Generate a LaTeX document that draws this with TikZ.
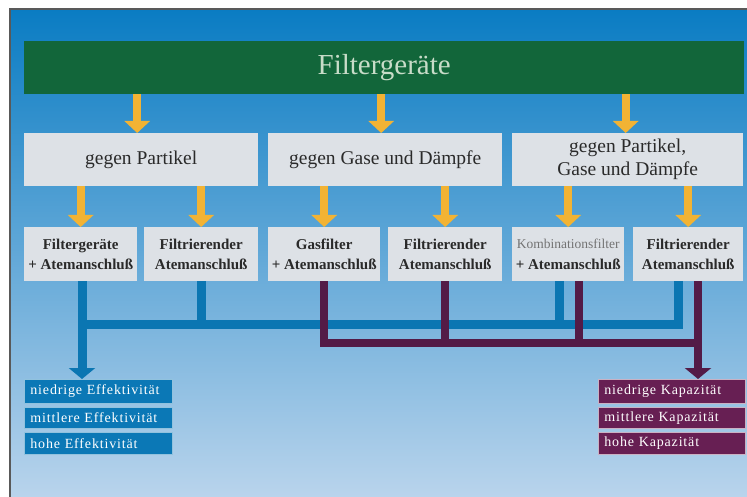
\documentclass[tikz,border=0pt]{standalone}
\usepackage{fontspec}
\setmainfont{Liberation Serif}
\newfontfamily\stackfont[LetterSpace=6]{Liberation Serif}
\usetikzlibrary{arrows.meta}
\definecolor{bgtop}{HTML}{0A7CC3}
\definecolor{bgmid}{HTML}{3A93D3}
\definecolor{bgbot}{HTML}{B9D4EC}
\definecolor{barg}{HTML}{12663A}
\definecolor{titlec}{HTML}{C8DCC8}
\definecolor{boxg}{HTML}{DDE1E6}
\definecolor{txtd}{HTML}{2A2A2A}
\definecolor{orng}{HTML}{F2B334}
\definecolor{bline}{HTML}{0B76B2}
\definecolor{bfill}{HTML}{0B78B6}
\definecolor{pline}{HTML}{531B47}
\definecolor{pfill}{HTML}{671F53}
\tikzset{
  boxbase/.style={anchor=north west, inner sep=0pt, align=center},
  midbox/.style={boxbase, fill=boxg, minimum height=53pt, text=txtd, font=\fontsize{19.5}{23}\selectfont},
  lowbox/.style={boxbase, fill=boxg, minimum height=54pt, text=txtd, font=\fontsize{15}{20.5}\selectfont\bfseries},
  bstack/.style={anchor=north west, inner xsep=6pt, inner ysep=0pt, text=white, fill=bfill, draw=bfill!45!white, line width=0.8pt, minimum width=148pt, text width=136pt, align=left, font=\fontsize{14}{16}\stackfont},
  pstack/.style={bstack, fill=pfill, draw=pfill!35!white, minimum width=147pt, text width=135pt},
  oarrow/.style={draw=orng, line width=8pt, -{Triangle[width=25pt,length=12pt]}},
  bconn/.style={draw=bline, line width=9pt},
  pconn/.style={draw=pline, line width=8pt},
}
\begin{document}
\begin{tikzpicture}[x=1pt,y=-1pt]
\useasboundingbox (0,0) rectangle (747,497);
% background
\shade[top color=bgtop, middle color=bgmid, bottom color=bgbot] (10,9) rectangle (747,497);
\draw[black!65, line width=1.2pt] (10,497) -- (10,9) -- (747,9);
% title bar
\node[boxbase, fill=barg, minimum width=720pt, minimum height=53pt, text=titlec, font=\fontsize{29}{32}\selectfont] (g) at (24,41) {Filtergeräte};
% middle boxes
\node[midbox, minimum width=234pt] (m1) at (24,133) {gegen Partikel};
\node[midbox, minimum width=234pt] (m2) at (268,133) {gegen Gase und Dämpfe};
\node[midbox, minimum width=231pt] (m3) at (512,133) {gegen Partikel,\\Gase und Dämpfe};
% lower boxes
\node[lowbox, minimum width=113pt] (l1) at (24,227) {Filtergeräte\\+ Atemanschluß};
\node[lowbox, minimum width=114pt] (l2) at (144,227) {Filtrierender\\Atemanschluß};
\node[lowbox, minimum width=112pt] (l3) at (268,227) {Gasfilter\\+ Atemanschluß};
\node[lowbox, minimum width=114pt] (l4) at (388,227) {Filtrierender\\Atemanschluß};
\node[lowbox, minimum width=112pt] (l5) at (512,227) {{\mdseries\color{black!55}\fontsize{13.5}{20.5}\selectfont Kombinationsfilter}\\+ Atemanschluß};
\node[lowbox, minimum width=110pt] (l6) at (633,227) {Filtrierender\\Atemanschluß};
% stacks
\node[bstack, minimum height=24pt] (b1) at (24,379) {niedrige Effektivität};
\node[bstack, minimum height=21pt] (b2) at (24,407) {mittlere Effektivität};
\node[bstack, minimum height=22pt] (b3) at (24,432) {hohe Effektivität};
\node[pstack, minimum height=24pt] (p1) at (598,379) {niedrige Kapazität};
\node[pstack, minimum height=21pt] (p2) at (598,407) {mittlere Kapazität};
\node[pstack, minimum height=22pt] (p3) at (598,432) {hohe Kapazität};
% orange arrows
\draw[oarrow] ([xshift=-4pt]m1.north |- g.south) -- ([xshift=-4pt]m1.north);
\draw[oarrow] ([xshift=-4pt]m2.north |- g.south) -- ([xshift=-4pt]m2.north);
\draw[oarrow] ([xshift=-2pt]m3.north |- g.south) -- ([xshift=-2pt]m3.north);
\draw[oarrow] (l1.north |- m1.south) -- (l1.north);
\draw[oarrow] (l2.north |- m1.south) -- (l2.north);
\draw[oarrow] (l3.north |- m2.south) -- (l3.north);
\draw[oarrow] (l4.north |- m2.south) -- (l4.north);
\draw[oarrow] (l5.north |- m3.south) -- (l5.north);
\draw[oarrow] (l6.north |- m3.south) -- (l6.north);
% blue connectors
\coordinate (bh) at (82,324);
\draw[bconn] ([xshift=-10pt]l6.south) |- (bh);
\draw[bconn] (l2.south) -- (l2.south |- bh);
\draw[bconn] ([xshift=-9pt]l5.south) -- ([xshift=-9pt]l5.south |- bh);
\draw[bconn, -{Triangle[width=26pt,length=11pt]}] (bh |- l1.south) -- (bh |- b1.north);
% purple connectors
\coordinate (ph) at (698,343);
\draw[pconn] (l3.south) |- (ph);
\draw[pconn] (l4.south) -- (l4.south |- ph);
\draw[pconn] ([xshift=11pt]l5.south) -- ([xshift=11pt]l5.south |- ph);
\draw[pconn, -{Triangle[width=26pt,length=11pt]}] (ph |- l6.south) -- (ph |- p1.north);
\end{tikzpicture}
\end{document}
